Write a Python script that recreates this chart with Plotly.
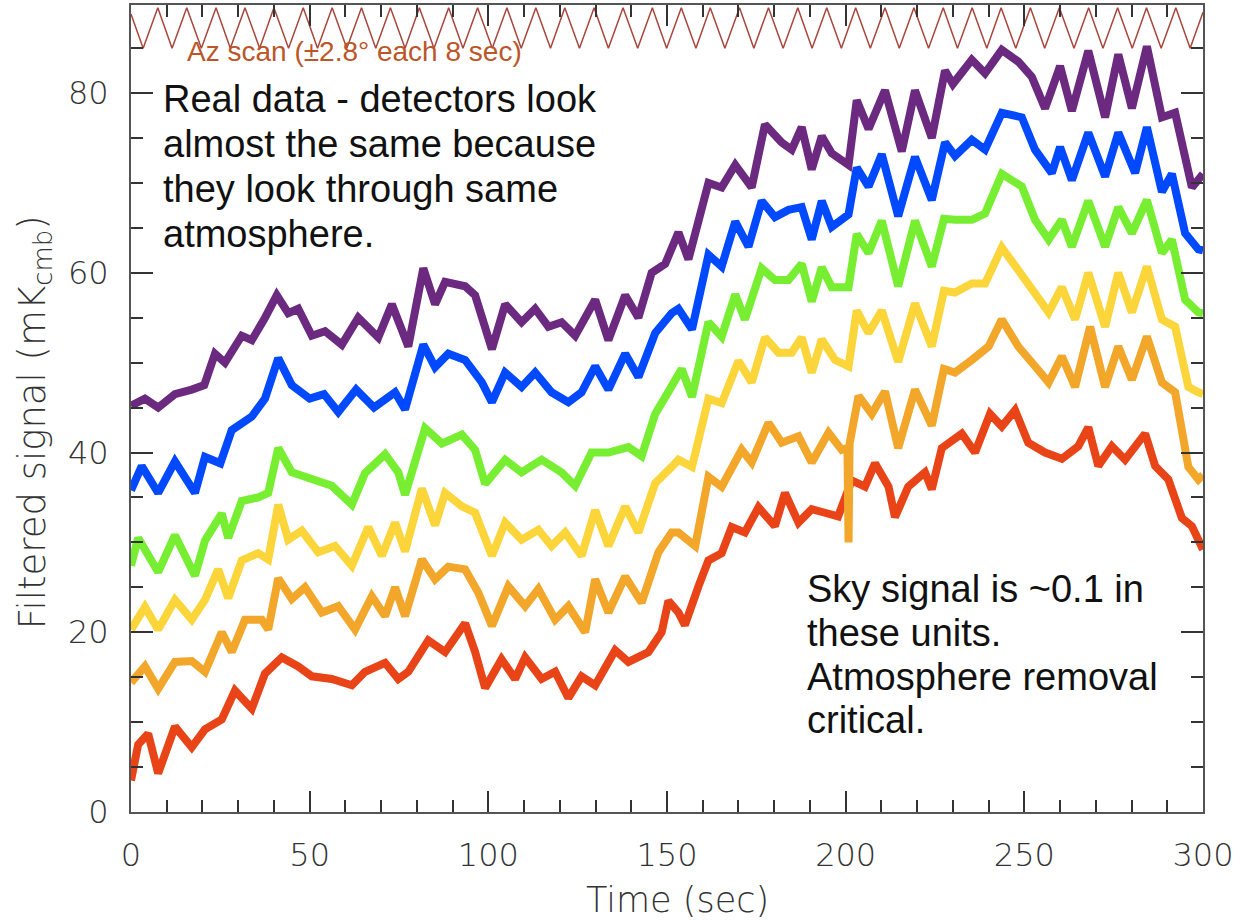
import plotly.graph_objects as go

# ---------------- data ----------------
PURPLE_T = [0, 3.9, 7.6, 12.3, 17, 20.5, 23.5, 26.3, 31, 33.8, 37.5, 40.8, 44, 46.8, 50.6, 54.3, 59, 63.6, 69.2, 73,
            77.6, 81.8, 85.1, 87.9, 93.5, 96.3, 101, 104.7, 109.3, 113.1, 116.8, 120.5, 124.3, 129.9, 133.6, 138.3, 142,
            145.7, 149.5, 153.2, 156, 161.6, 165.3, 169.1, 173.7, 177.4, 182.1, 184.9, 187.7, 190.5, 193.3, 196.1,
            200.8, 203.1, 206.4, 211, 215.7, 219.4, 224.1, 227.8, 230, 235.3, 239, 243.7, 248.3, 252.1, 255.8, 260,
            263.3, 267.9, 272.6, 276.3, 280.1, 284.3, 288.5, 292.2, 296.9, 300]
PURPLE_V = [45.2, 46, 45, 46.5, 47, 47.5, 51, 50, 53, 52.5, 55, 57.5, 55.5, 56, 53, 53.5, 52, 55, 52.8, 56.5,
            51.8, 60.5, 56.5, 59, 58.5, 57.5, 51.5, 56.5, 54.5, 56, 54, 54.5, 53, 57, 52.5, 57.5, 55,
            60, 61, 64.5, 61.5, 70, 69.5, 72, 69.5, 76.5, 74.5, 73.7, 76.2, 71.5, 75.2, 73.3,
            72, 79.2, 76, 80.3, 73.5, 80.3, 75, 82.5, 81, 83.7, 82.2, 84.8, 83.5, 81.8, 78.3, 83,
            78, 84.7, 77.3, 84.3, 78.3, 85.2, 77.3, 77.8, 69.5, 71]

BLUE_T = [0, 3, 7.6, 12.3, 17.9, 20.7, 25, 28.2, 33.8, 37.5, 41.2, 45, 50, 54, 58, 63, 68, 73.9, 76.7, 81.8, 85.1,
          88.8, 93.5, 98.2, 101, 104.7, 109.3, 113.1, 117.7, 122.4, 126.1, 129.9, 133.6, 138.3, 142, 146.7, 151.3,
          153.2, 157, 161.6, 165.3, 169.1, 172.8, 176.5, 180.2, 184, 187.7, 190.5, 193.3, 196.1, 200.8, 203.1, 206.4,
          210.1, 214.7, 219.4, 224.1, 227.8, 230.6, 235.3, 239, 243.7, 249.3, 253, 257.7, 260, 263.3, 267.9, 272.6,
          276.3, 281, 284.3, 288.5, 291.3, 295, 298.7, 300]
BLUE_V = [35.8, 38.5, 35.5, 39, 35.5, 39.5, 38.8, 42.5, 44, 46, 50.5, 47.5, 46, 46.5, 44.5, 47, 45, 46.7, 44.8, 52, 49.5,
          51, 50.3, 47.8, 45.6, 48.9, 47.3, 48.9, 46.7, 45.6, 46.7, 49.6, 47, 51, 48.4, 53.3, 55.5,
          56, 53.7, 62, 60.7, 65.7, 62.9, 68, 66.2, 67, 67.3, 63.7, 68, 65.1, 66.5, 71.7, 69.6,
          73.2, 66.3, 72.9, 68.1, 74.5, 73, 74.8, 73.7, 77.8, 77.3, 73.7, 71.1, 74, 70.3, 75.6, 70.7,
          75.6, 71.1, 76.2, 69, 71, 64.4, 62.6, 62.5]

GREEN_T = [0, 2, 7.6, 12.3, 17.9, 20.7, 25.4, 27.2, 31, 35.6, 38.4, 41.2, 45, 50.6, 56.2, 61.8, 65.5, 71.1, 74.8, 76.7,
           82.3, 87, 92.6, 96.3, 99.1, 104.7, 109.3, 114.9, 120.5, 124.3, 128.9, 133.6, 139.2, 142.9, 146.7, 150,
           154.1, 157, 161.6, 165.3, 169.1, 171.8, 176.5, 180.2, 184, 187.7, 190.5, 193.3, 196.1, 200.8, 203.1, 206.4,
           210.1, 214.7, 219.4, 224.1, 227.5, 230.6, 235.3, 239, 243.7, 249.3, 253, 256.8, 260.5, 263.3, 267.9, 272.6,
           276.3, 280.1, 284.3, 288.5, 291.3, 295, 298.7, 300]
GREEN_V = [27.4, 30.5, 26.7, 30.8, 26.3, 30.2, 33.2, 30.5, 34.6, 35, 35.5, 40.5, 37.8, 37, 36.3, 34.2, 37.7, 39.8, 37.8, 35.3,
           42.7, 41, 42, 40.3, 36.5, 39.2, 37.8, 39.2, 37.8, 36.3, 40, 40, 40.6, 39.6, 44.3, 46.5,
           49.3, 46.2, 54.5, 52.9, 57.6, 54.8, 60.5, 59.2, 59.2, 61, 56.8, 60.6, 58.4, 58.4, 64.3, 62.2,
           65.8, 58.5, 65.8, 60.7, 66, 65.9, 65.9, 66.6, 71, 69.6, 65.9, 63.7, 65.9, 62.9, 68, 62.9,
           67.3, 64.4, 68.1, 62.2, 63.7, 57, 55.6, 55.5]

YELLOW_T = [0, 3.9, 7.6, 12.3, 17, 20.7, 24.4, 27.2, 31, 35.6, 38.4, 41.2, 44, 47.8, 52.4, 57.1, 61.8, 66.4, 70.2, 73.9,
            76.7, 81.4, 85.1, 87.9, 92.6, 96.3, 101, 104.7, 109.3, 114, 117.7, 121.5, 126.1, 129.9, 133.6, 138.3, 142,
            146.7, 151.3, 153.2, 157, 161.6, 165.3, 170, 173.7, 177.4, 181.2, 184.9, 187.7, 190.5, 193.3, 197, 200.8,
            203.1, 206.4, 210.1, 214.7, 219.4, 224.1, 227.5, 230.6, 235.3, 239, 243.7, 248.3, 253, 256.8, 260.5,
            264.2, 267.9, 272.6, 276.3, 280.1, 284.3, 288.5, 292.2, 295.9, 298.7, 300]
YELLOW_V = [20.3, 22.8, 20.3, 23.6, 21.4, 23.6, 27, 23.8, 28, 28.8, 28.1, 34.2, 30.3, 31.3, 28.9, 29.6, 27.4, 31.7, 28.5, 32.2,
            29, 36, 31.9, 35.5, 34, 33.3, 28.5, 32.2, 30.3, 31.4, 29.6, 31.1, 28.5, 33.6, 29.6, 34, 31.1,
            36.6, 38.4, 39.2, 38.4, 46, 45.5, 50.2, 47.8, 52.8, 51.1, 51.1, 52.8, 48.9, 52.6, 50.3, 49.6,
            55.8, 53.3, 55.8, 50.1, 56.6, 51.8, 58, 57.8, 58.8, 58.8, 62.8, 60.3, 57.8, 55.6, 58.4,
            54.8, 60, 54, 60, 55.6, 60.7, 54.8, 54, 47.3, 46.7, 46.5]

ORANGE_T = [0, 3.9, 7.6, 12.3, 17, 20.7, 25.4, 28.2, 31.9, 36.6, 38.4, 41.2, 45, 48.7, 53.4, 58, 62.7, 67.4, 71.1, 73.9,
            76.7, 81.4, 85.1, 88.8, 93.5, 97.2, 101, 105.6, 110.3, 114, 118.7, 122.4, 127.1, 129.9, 133.6, 138.3,
            142.9, 147.6, 151.3, 153.2, 157.9, 161.6, 165.3, 170.9, 173.7, 178.4, 182.1, 186.8, 190.5, 195.2, 198.9,
            200.5, 200.8, 201.1, 203.6, 207.3, 211, 214.7, 219.4, 224.1, 227.5, 230.6, 235.3, 240, 243.7, 248.3, 253,
            256.8, 260.5, 264.2, 268.4, 272.6, 276.3, 280.1, 284.3, 288.5, 292.2, 295.9, 298.7, 300]
ORANGE_V = [14.4, 16.2, 13.7, 16.7, 16.8, 15.6, 20, 17.8, 21.4, 21.4, 20.3, 26, 23.7, 25, 22.2, 22.9, 20.3, 24, 21.8, 25,
            21.8, 28.1, 25.9, 27.3, 27, 24.4, 20.7, 25.1, 22.9, 24.8, 21.4, 22.9, 20, 25.9, 22.2, 26.2,
            23.3, 28.9, 31.1, 31.1, 29.6, 37.3, 36.2, 40.3, 38.9, 43.3, 41.1, 41.8, 38.9, 42.2, 40.3,
            40.5, 30, 41, 46.3, 44.3, 46.8, 40.5, 47, 43, 49.3, 48.9, 50.3, 51.8, 54.8, 51.8, 49.6,
            47.8, 50.7, 47.3, 54, 47.3, 51.8, 48.1, 52.9, 47.8, 46.7, 38.4, 37, 37.5]

RED_T = [0, 2, 4.8, 7.6, 12.3, 17, 20.7, 25.4, 29.1, 33.8, 37.5, 42.2, 46.8, 50.6, 56.2, 61.8, 65.5, 71.1, 74.8, 77.6,
         83.2, 87.9, 93.5, 96.3, 99.1, 103.7, 107.5, 110.3, 114.9, 118.7, 122.4, 126.1, 129.9, 135.5, 139.2, 144.8,
         148.5, 150.4, 153.2, 155, 158.8, 161.6, 165.3, 168.1, 171.8, 175.6, 180.2, 183, 186.8, 190.5, 194.2, 197.9,
         201.7, 205.4, 208.2, 212, 213.8, 217.5, 222.2, 224.1, 226.9, 232.5, 236.2, 240.4, 243.7, 247.4, 251.1, 255.8,
         260.5, 265.1, 267.9, 270.7, 274.5, 278.2, 283.8, 286.6, 290.3, 294.1, 296.9, 300]
RED_V = [3.5, 7.5, 8.7, 4.3, 9.5, 7.2, 9.2, 10.3, 13.5, 11.5, 15.4, 17.2, 16.2, 15.1, 14.8, 14.1, 15.6, 16.6, 14.8, 15.6,
         19.1, 17.8, 21, 17.8, 13.8, 17, 14.8, 17.2, 14.8, 15.6, 12.7, 15.1, 14.1, 18, 16.7, 17.8,
         20, 23.5, 22.2, 20.8, 25.1, 28, 28.8, 31.7, 31.1, 33.9, 31.8, 35.5, 32.2, 33.7, 33.3, 32.9,
         36.9, 36.2, 38.8, 36.2, 32.8, 36.2, 37.8, 35.9, 40.5, 42.1, 40, 44.3, 42.9, 44.7, 41.1, 40,
         39.3, 40.7, 42.8, 38.5, 40.7, 39.2, 42.1, 38.5, 37, 32.7, 31.8, 29.2]

# Azimuth scan (triangle wave drawn at the top) turning points
AZ_T = [0, 3.4, 7.5, 11.5, 15.6, 19.7, 23.8, 27.8, 31.9, 36.0, 40.0, 44.1, 48.2, 52.2, 56.3, 60.4, 64.5, 68.5, 72.6,
        76.7, 80.7, 84.8, 88.9, 92.9, 97.0, 101.1, 105.2, 109.2, 113.3, 117.4, 121.4, 125.5, 129.6, 133.6, 137.7,
        141.8, 145.9, 149.9, 154.0, 158.1, 162.1, 166.2, 170.3, 174.3, 178.4, 182.5, 186.6, 190.6, 194.7, 198.8,
        202.8, 206.9, 211.0, 215.0, 219.1, 223.2, 227.3, 231.3, 235.4, 239.5, 243.5, 247.6, 251.7, 255.7, 259.8,
        263.9, 268.0, 272.0, 276.1, 280.2, 284.2, 288.3, 292.4, 296.4, 300]
AZ_V = [88.8, 85.0, 89.5, 85.0, 89.5, 85.0, 89.5, 85.0, 89.5, 85.0, 89.5, 85.0, 89.5, 85.0, 89.5, 85.0, 89.5, 85.0, 89.5,
        85.0, 89.5, 85.0, 89.5, 85.0, 89.5, 85.0, 89.5, 85.0, 89.5, 85.0, 89.5, 85.0, 89.5, 85.0, 89.5,
        85.0, 89.5, 85.0, 89.5, 85.0, 89.5, 85.0, 89.5, 85.0, 89.5, 85.0, 89.5, 85.0, 89.5, 85.0,
        89.5, 85.0, 89.5, 85.0, 89.5, 85.0, 89.5, 85.0, 89.5, 85.0, 89.5, 85.0, 89.5, 85.0, 89.5,
        85.0, 89.5, 85.0, 89.5, 85.0, 89.5, 85.0, 89.5, 85.0, 89.0]

X_TICKS = [0, 50, 100, 150, 200, 250, 300]
Y_TICKS = [0, 20, 40, 60, 80]

SERIES = [
    ("red", RED_T, RED_V, "#e94418"),
    ("orange", ORANGE_T, ORANGE_V, "#f2a72b"),
    ("yellow", YELLOW_T, YELLOW_V, "#fcd53a"),
    ("green", GREEN_T, GREEN_V, "#78ee32"),
    ("blue", BLUE_T, BLUE_V, "#0049ff"),
    ("purple", PURPLE_T, PURPLE_V, "#6b2a7f"),
]

# ---------------- figure ----------------
fig = go.Figure()

fig.add_trace(go.Scatter(x=AZ_T, y=AZ_V, mode="lines",
                         line=dict(color="#a8463c", width=1.5), hoverinfo="skip", showlegend=False))

for name, t, v, col in SERIES:
    fig.add_trace(go.Scatter(x=t, y=v, mode="lines", name=name,
                             line=dict(color=col, width=8), showlegend=False))

TICK_FONT = dict(family="DejaVu Sans, sans-serif", size=32, color="#333333", weight=200)
TITLE_FONT = dict(family="DejaVu Sans, sans-serif", size=35, color="#333333", weight=200)
TEXT_FONT = dict(family="Liberation Sans, Arial, sans-serif", size=38, color="#111111")

fig.update_layout(
    width=1243, height=924,
    margin=dict(l=131, r=40, t=5, b=112, autoexpand=False),
    paper_bgcolor="white", plot_bgcolor="white",
    xaxis=dict(range=[0, 300], tickvals=X_TICKS, ticks="inside", ticklen=21, tickwidth=1.5,
               tickcolor="#333333", showline=True, linecolor="#555555", linewidth=2, mirror="ticks",
               showgrid=False, zeroline=False, tickfont=TICK_FONT, ticklabelstandoff=14, automargin=False,
               minor=dict(dtick=10, ticks="inside", ticklen=12, tickwidth=1.5, tickcolor="#333333", showgrid=False)),
    yaxis=dict(range=[0, 89.8], tickvals=Y_TICKS, ticks="inside", ticklen=22, tickwidth=1.5,
               tickcolor="#333333", showline=True, linecolor="#555555", linewidth=2, mirror="ticks",
               showgrid=False, zeroline=False, tickfont=TICK_FONT, ticklabelstandoff=14, automargin=False,
               minor=dict(dtick=5, ticks="inside", ticklen=12, tickwidth=1.5, tickcolor="#333333", showgrid=False)),
)

annotations = []
# axis titles
annotations.append(dict(text="Time (sec)", xref="paper", yref="paper", x=0.51, y=-0.109,
                        xanchor="center", yanchor="middle", showarrow=False, font=TITLE_FONT))
annotations.append(dict(text="Filtered signal (mK<sub>cmb</sub>)", xref="paper", yref="paper",
                        x=-0.0896, y=0.483, xanchor="center", yanchor="middle", textangle=-90,
                        showarrow=False, font=dict(TITLE_FONT, size=37)))
# scan label
annotations.append(dict(text="Az scan (±2.8° each 8 sec)", xref="x", yref="y", x=15.1, y=84.6,
                        xanchor="left", yanchor="middle", showarrow=False,
                        font=dict(family="Liberation Sans, Arial, sans-serif", size=28, color="#bb5628")))
# text blocks, one annotation per line
LEFT_LINES = ["Real data - detectors look", "almost the same because", "they look through same", "atmosphere."]
for i, line in enumerate(LEFT_LINES):
    annotations.append(dict(text=line, xref="x", yref="y", x=8.4, y=79.3 - 5.0 * i,
                            xanchor="left", yanchor="middle", showarrow=False, font=TEXT_FONT))
RIGHT_LINES = ["Sky signal is ~0.1 in", "these units.", "Atmosphere removal", "critical."]
for i, line in enumerate(RIGHT_LINES):
    annotations.append(dict(text=line, xref="x", yref="y", x=188.6, y=24.8 - 4.87 * i,
                            xanchor="left", yanchor="middle", showarrow=False, font=TEXT_FONT))

fig.update_layout(annotations=annotations)

# the page body has a default 8px margin; remove it so the figure sits at the window's corner
fig.write_html("out.html", config={"displayModeBar": False},
               post_script="document.body.style.margin='0';")
